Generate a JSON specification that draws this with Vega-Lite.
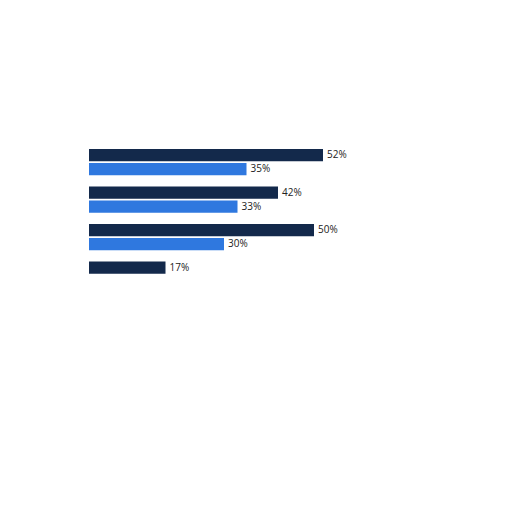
{
  "$schema": "https://vega.github.io/schema/vega-lite/v6.json",
  "autosize": "none",
  "padding": {"left": 89, "top": 143.4, "right": 0, "bottom": 0},
  "width": 320,
  "height": 150,
  "data": {
    "values": [
      {"group": "1", "series": "A", "value": 0.52},
      {"group": "1", "series": "B", "value": 0.35},
      {"group": "2", "series": "A", "value": 0.42},
      {"group": "2", "series": "B", "value": 0.33},
      {"group": "3", "series": "A", "value": 0.50},
      {"group": "3", "series": "B", "value": 0.30},
      {"group": "4", "series": "A", "value": 0.17}
    ]
  },
  "encoding": {
    "y": {
      "field": "group",
      "type": "nominal",
      "axis": null,
      "scale": {"paddingInner": 0.3, "paddingOuter": 0.15}
    },
    "yOffset": {
      "field": "series",
      "type": "nominal",
      "scale": {"paddingInner": 0.12}
    },
    "x": {
      "field": "value",
      "type": "quantitative",
      "axis": null,
      "scale": {"domain": [0, 0.7111]}
    }
  },
  "layer": [
    {
      "mark": "bar",
      "encoding": {
        "color": {
          "field": "series",
          "type": "nominal",
          "legend": null,
          "scale": {"domain": ["A", "B"], "range": ["#13294b", "#2f78df"]}
        }
      }
    },
    {
      "mark": {
        "type": "text",
        "align": "left",
        "baseline": "middle",
        "dx": 4,
        "fontSize": 10,
        "font": "Open Sans",
        "color": "#222222"
      },
      "encoding": {
        "text": {"field": "value", "type": "quantitative", "format": ".0%"}
      }
    }
  ],
  "config": {"view": {"stroke": null}}
}
